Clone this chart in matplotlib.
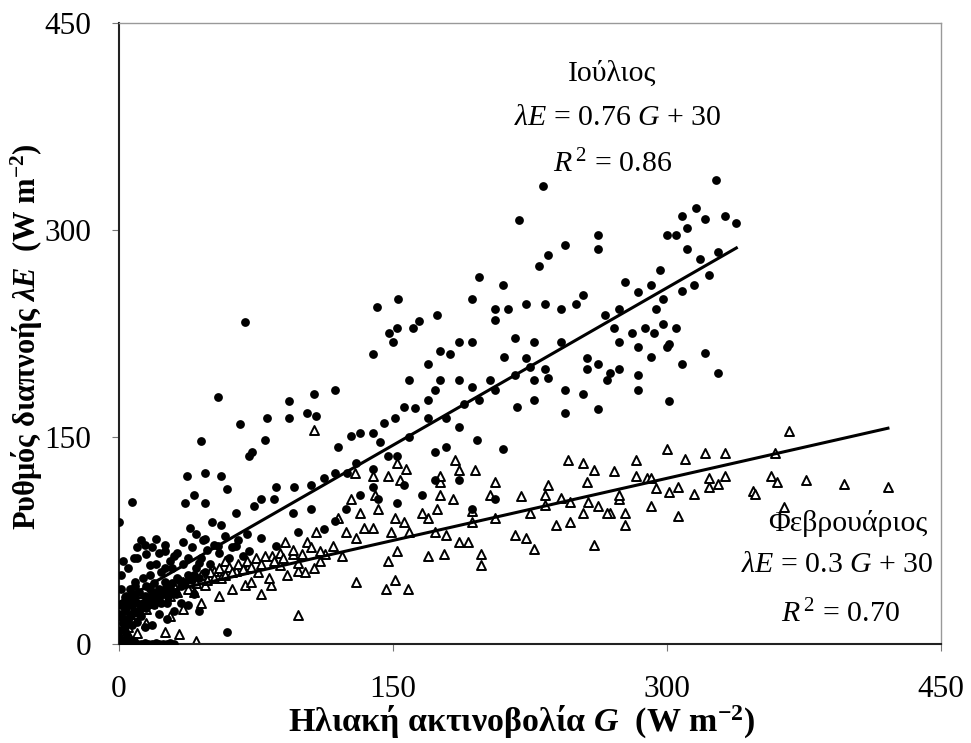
import numpy as np
import matplotlib
matplotlib.use("Agg")
import matplotlib.pyplot as plt

plt.rcParams['font.family'] = ['Liberation Serif', 'DejaVu Serif']
plt.rcParams['mathtext.fontset'] = 'custom'
plt.rcParams['mathtext.rm'] = 'Liberation Serif'
plt.rcParams['mathtext.it'] = 'Liberation Serif:italic'
plt.rcParams['mathtext.bf'] = 'Liberation Serif:bold'
plt.rcParams['mathtext.bfit'] = 'Liberation Serif:bold:italic'

# July (Ιούλιος) - filled dots, G vs lambda E
jul_g = [232, 327, 219, 316, 308, 321, 332, 338, 311, 305, 300, 262, 262, 244, 235, 230,
         296, 311, 318, 328, 323, 315, 308, 197, 210, 277, 284, 291, 298, 294, 274, 266,
         271, 281, 288, 293, 274, 284, 291, 301, 305, 298, 254, 250, 242, 223, 233, 213,
         206, 206, 193, 174, 164, 161, 152, 153, 141, 148, 150, 139, 193, 186, 176, 217,
         227, 242, 256, 262, 269, 274, 284, 308, 321, 328, 301, 284, 267, 256, 254, 244,
         235, 227, 233, 217, 203, 206, 193, 197, 186, 173, 169, 162, 156, 151, 145, 139,
         143, 132, 127, 120, 118, 107, 108, 103, 93, 93, 81, 80, 66, 54, 45, 69,
         7, 73, 71, 181, 196, 210, 218, 227, 244, 262, 300, 211, 223, 225, 169, 176,
         159, 169, 179, 186, 189, 179, 173, 152, 159, 147, 139, 130, 125, 118, 112, 105,
         96, 86, 85, 78, 74, 64, 56, 47, 37, 41, 36, 59, 47, 56, 51, 39,
         47, 20, 14, 25, 30, 25, 10, 17, 44, 41, 54, 64, 71, 78, 86, 98,
         112, 118, 124, 105, 95, 142, 152, 156, 139, 132, 166, 173, 186, 193, 206, 59,
         44, 41, 34, 27, 22, 17,
         0, 2, 4, 6, 8, 10, 12, 14, 16, 18, 20, 22, 24, 26, 28, 30,
         1, 1, 2, 3, 2, 4, 5, 6, 7, 8, 9, 10, 11, 12, 13, 14, 15, 16, 17, 18,
         19, 20, 22, 23, 24, 25, 26, 28, 29, 30, 32, 34, 35, 36, 38, 40, 42, 44, 45, 47,
         50, 1, 1, 0, 3, 5, 4, 7, 10, 12, 0, 2, 5, 8, 10, 12, 15, 18, 20, 22,
         25, 28, 32, 35, 38, 40, 42, 46, 48, 52, 55, 58, 60, 62, 65, 68, 70,
         0, 1, 2, 3, 4, 5, 6, 7, 8, 9, 0, 2, 4, 6, 8, 3, 5, 7, 9, 11,
         13, 15, 17, 19, 21, 23, 25, 27, 29, 31, 33, 14, 18, 22, 26, 30, 34, 38]
jul_le = [332, 336, 307, 316, 310, 308, 310, 305, 301, 296, 296, 296, 286, 289, 282, 274,
          271, 286, 279, 284, 267, 260, 256, 266, 260, 262, 255, 260, 250, 243, 243, 238,
          229, 225, 229, 225, 219, 215, 208, 217, 229, 232, 253, 246, 243, 246, 246, 243,
          243, 235, 250, 238, 234, 229, 229, 250, 244, 225, 219, 210, 219, 219, 212, 222,
          219, 219, 207, 203, 196, 199, 195, 203, 211, 196, 176, 184, 191, 199, 181, 184,
          193, 191, 199, 195, 191, 184, 186, 177, 191, 184, 177, 171, 172, 164, 160, 153,
          146, 153, 151, 143, 184, 181, 165, 167, 176, 164, 164, 148, 159, 179, 147, 233,
          103, 139, 136, 210, 148, 141, 172, 177, 167, 170, 215, 208, 207, 201, 203, 191,
          191, 164, 164, 157, 174, 143, 139, 136, 150, 136, 127, 131, 124, 124, 120, 115,
          114, 114, 105, 105, 100, 95, 122, 124, 122, 108, 102, 112, 102, 86, 88, 84,
          76, 76, 72, 67, 64, 55, 62, 57, 59, 50, 71, 71, 67, 77, 71, 81,
          83, 89, 98, 98, 95, 105, 102, 115, 114, 108, 108, 119, 119, 98, 105, 9,
          24, 36, 45, 38, 33, 40,
          0, 0, 1, 0, 1, 0, 0, 1, 0, 0, 1, 0, 0, 0, 1, 0,
          10, 20, 30, 25, 15, 35, 28, 40, 22, 32, 45, 30, 38, 26, 48, 35, 42, 30, 50, 38,
          44, 33, 40, 52, 36, 45, 30, 42, 55, 38, 48, 42, 58, 45, 50, 46, 55, 48, 62, 52,
          58, 40, 50, 5, 12, 18, 8, 14, 16, 20, 88, 60, 55, 62, 70, 75, 65, 70, 58, 66,
          72, 60, 66, 74, 62, 70, 80, 75, 68, 72, 66, 78, 62, 70, 75, 64, 80,
          22, 28, 18, 34, 26, 30, 20, 36, 24, 42, 2, 3, 2, 3, 2, 24, 32, 28, 36, 22,
          30, 26, 34, 28, 38, 30, 40, 34, 44, 36, 46, 12, 14, 22, 18, 24, 30, 28]

# February (Φεβρουάριος) - open triangles
feb_g = [367, 359, 300, 321, 332, 310, 283, 246, 254, 260, 376, 357, 360, 397, 421, 347,
         364, 348, 332, 323, 323, 328, 315, 306, 301, 294, 289, 283, 271, 256, 233, 220,
         242, 247, 257, 262, 269, 274, 277, 291, 306, 277, 291, 267, 247, 239, 225, 217,
         227, 260, 206, 198, 198, 186, 191, 193, 183, 174, 176, 176, 176, 186, 195, 184,
         206, 203, 169, 178, 169, 166, 159, 152, 158, 151, 146, 147, 149, 151, 154, 152,
         157, 147, 139, 140, 139, 134, 130, 130, 129, 127, 120, 117, 110, 107, 108, 103,
         98, 98, 91, 88, 83, 78, 71, 64, 58, 52, 47, 41, 33, 25, 3, 42,
         56, 69, 76, 84, 95, 98, 107, 113, 122, 124, 132, 142, 156, 173, 179, 193,
         223, 235, 233, 254, 274,
         0, 2, 5, 8, 10, 12, 15, 18, 20, 22, 25, 28, 30, 32, 35, 38, 40, 42, 45, 48,
         50, 52, 55, 58, 60, 62, 65, 68, 70, 72, 75, 78, 80, 85, 88, 90, 95, 100, 105, 110,
         3, 6, 10, 15, 28, 35, 45, 55, 62, 72, 82, 92, 102]
feb_le = [154, 138, 141, 138, 138, 134, 133, 133, 131, 126, 119, 122, 117, 116, 114, 111,
          99, 109, 122, 120, 114, 116, 109, 114, 110, 113, 120, 122, 125, 117, 108, 107,
          106, 103, 103, 100, 95, 105, 95, 100, 93, 86, 120, 95, 88, 86, 95, 79,
          69, 72, 91, 65, 57, 74, 74, 96, 105, 98, 108, 117, 122, 126, 126, 133,
          117, 108, 91, 65, 64, 95, 81, 67, 40, 46, 40, 60, 81, 91, 119, 131,
          127, 122, 122, 108, 84, 84, 77, 45, 124, 105, 91, 71, 60, 155, 81, 74,
          53, 21, 74, 57, 43, 36, 57, 53, 60, 53, 43, 38, 7, 9, 9, 2,
          48, 43, 52, 64, 65, 59, 55, 65, 64, 81, 95, 98, 88, 81, 79, 88,
          77, 115, 101, 95, 108,
          5, 8, 12, 18, 22, 28, 25, 30, 35, 32, 38, 35, 42, 38, 45, 40, 48, 44, 50, 46,
          52, 48, 55, 50, 56, 52, 58, 54, 60, 56, 62, 58, 64, 60, 66, 62, 68, 65, 70, 67,
          2, 4, 8, 15, 20, 25, 30, 35, 40, 45, 48, 50, 52]

jul_fit = (0.76, 30)
feb_fit = (0.3, 30)

fig = plt.figure(figsize=(9.71, 7.43), dpi=100)
ax = fig.add_axes([0.1226, 0.1333, 0.8464, 0.836])

ax.scatter(feb_g, feb_le, marker='^', s=42, facecolors='white', edgecolors='black',
           linewidths=1.4, zorder=2)
ax.scatter(jul_g, jul_le, marker='o', s=40, color='black', linewidths=0, zorder=3)

g1 = np.array([0, 338])
ax.plot(g1, jul_fit[0] * g1 + jul_fit[1], color='black', lw=2.2, zorder=4)
g2 = np.array([0, 421])
ax.plot(g2, feb_fit[0] * g2 + feb_fit[1], color='black', lw=2.2, zorder=4)

ax.set_xlim(0, 450)
ax.set_ylim(0, 450)
ax.set_xticks([0, 150, 300, 450])
ax.set_yticks([0, 150, 300, 450])
ax.tick_params(axis='x', labelsize=22.5, pad=17, length=5, color='#777777')
ax.tick_params(axis='y', labelsize=22.5, pad=15, length=5, color='#777777')
for s in ['left', 'bottom']:
    ax.spines[s].set_linewidth(1.5)
    ax.spines[s].set_color('#222222')
for s in ['top', 'right']:
    ax.spines[s].set_linewidth(1.0)
    ax.spines[s].set_color('#999999')

ax.set_xlabel(r'Ηλιακή ακτινοβολία $\mathbfit{G}$  (W m$^{\mathbf{-2}}$)',
              fontsize=24.5, fontweight='bold', va='center')
ax.xaxis.set_label_coords(0.49, -0.126)
ax.set_ylabel(r'Ρυθμός διαπνοής $\mathbfit{\lambda E}$  (W m$^{\mathbf{-2}}$)',
              fontsize=22, fontweight='bold', va='center')
ax.yaxis.set_label_coords(-0.112, 0.495)

fs = 21.5
ax.text(270, 413, 'Ιούλιος', fontsize=fs, ha='center', va='center')
ax.text(273, 381, r'$\lambda E$ = 0.76 $G$ + 30', fontsize=fs, ha='center', va='center')
ax.text(270, 348, r'$R^{\,2}$ = 0.86', fontsize=fs, ha='center', va='center')
ax.text(399, 87, 'Φεβρουάριος', fontsize=fs, ha='center', va='center')
ax.text(393, 57, r'$\lambda E$ = 0.3 $G$ + 30', fontsize=fs, ha='center', va='center')
ax.text(395, 22, r'$R^{\,2}$ = 0.70', fontsize=fs, ha='center', va='center')

fig.savefig('out.png', dpi=100)
